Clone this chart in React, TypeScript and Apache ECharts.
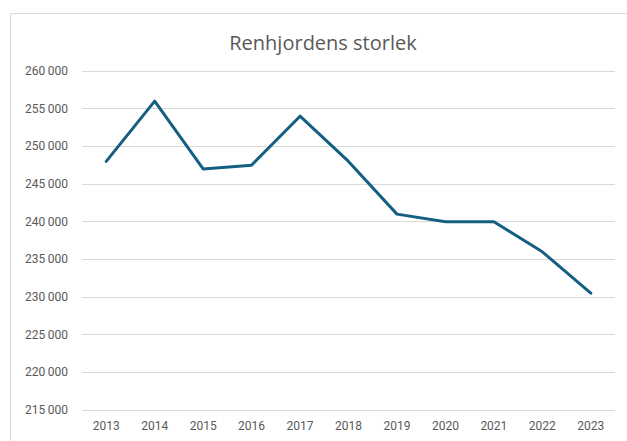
import React, { useEffect, useRef } from "react";
import * as echarts from "echarts";

const years = ["2013", "2014", "2015", "2016", "2017", "2018", "2019", "2020", "2021", "2022", "2023"];
const herdSize = [248000, 256000, 247000, 247500, 254000, 248000, 241000, 240000, 240000, 236000, 230500];
const yMin = 215000;
const yMax = 260000;
const yStep = 5000;

function fmt(v: number): string {
  const s = String(Math.round(v));
  return s.replace(/\B(?=(\d{3})+(?!\d))/g, "\u2009");
}

export default function App() {
  const ref = useRef<HTMLDivElement>(null);
  useEffect(() => {
    if (!ref.current) return;
    const chart = echarts.init(ref.current, undefined, { renderer: "svg" });
    chart.setOption({
      animation: false,
      backgroundColor: "#ffffff",
      textStyle: { fontFamily: "Roboto, 'Liberation Sans', sans-serif" },
      title: {
        text: "Renhjordens storlek",
        left: 318,
        top: 27,
        textAlign: "center",
        textStyle: { fontSize: 20, fontWeight: "normal", color: "#595959", fontFamily: "'Open Sans', Roboto, sans-serif" },
      },
      graphic: [
        {
          type: "rect",
          shape: { x: 10.5, y: 13.5, width: 640, height: 450 },
          style: { fill: "none", stroke: "#d9d9d9", lineWidth: 1 },
          silent: true,
        },
      ],
      grid: { left: 82, right: 12, top: 71, bottom: 31, containLabel: false },
      xAxis: {
        type: "category",
        data: years,
        boundaryGap: true,
        axisLine: { show: false },
        axisTick: { show: false },
        axisLabel: { color: "#595959", fontSize: 12, margin: 10 },
      },
      yAxis: {
        type: "value",
        min: yMin,
        max: yMax,
        interval: yStep,
        axisLine: { show: false },
        axisTick: { show: false },
        axisLabel: { color: "#595959", fontSize: 12, margin: 14, formatter: (v: number) => fmt(v) },
        splitLine: { lineStyle: { color: "#d9d9d9", width: 1 } },
      },
      series: [
        {
          type: "line",
          data: herdSize,
          symbol: "none",
          lineStyle: { color: "#156082", width: 3, cap: "round", join: "round" },
        },
      ],
    });
    return () => chart.dispose();
  }, []);
  return <div ref={ref} style={{ position: "fixed", left: 0, top: 0, width: 627, height: 441 }} />;
}
